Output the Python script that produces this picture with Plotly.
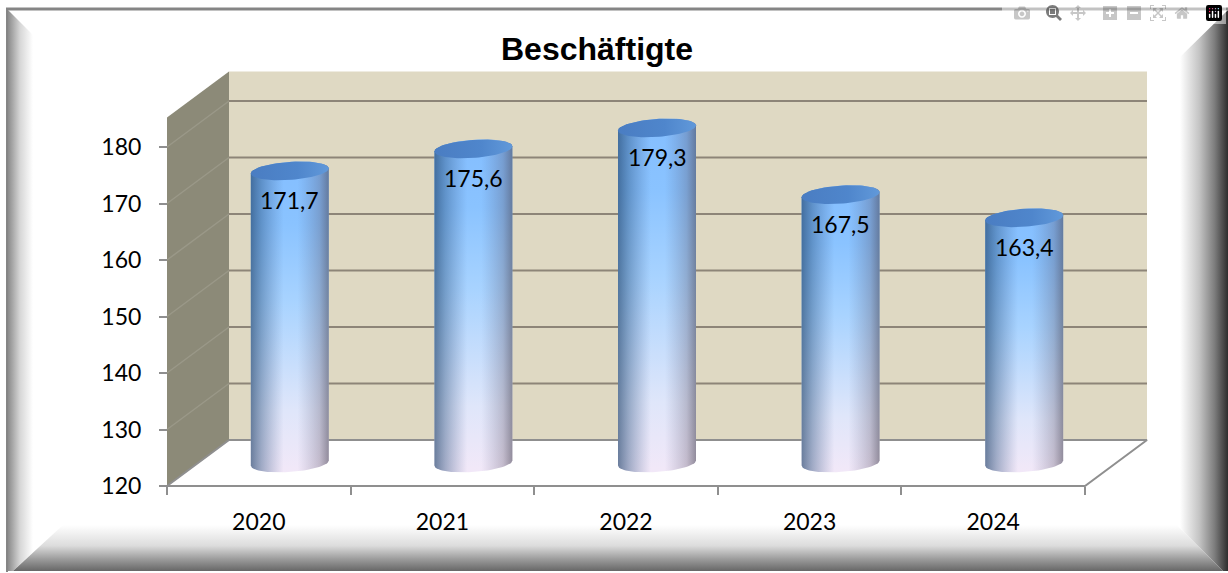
import numpy as np
import plotly.graph_objects as go

# ---- data ----
categories = ["2020", "2021", "2022", "2023", "2024"]
values = [171.7, 175.6, 179.3, 167.5, 163.4]
y_ticks = [120, 130, 140, 150, 160, 170, 180]
title_text = "Beschäftigte"

# ---- geometry of the pseudo-3D chart ----
W, H = 1228, 573
X0_PX, XU_PX = 167.0, 183.6      # pixel of x=0, pixels per category
Y0_PX, YU_PX = 486.0, 5.65       # pixel of y=120, pixels per unit
Y_BASE, Y_TOP = 120.0, 185.2
DX, DY = 62.0 / XU_PX, 46.0 / YU_PX   # depth offset in data units
N = len(categories)


def px_x(p):
    return (np.asarray(p, float) - X0_PX) / XU_PX


def px_y(p):
    return Y_BASE + (Y0_PX - np.asarray(p, float)) / YU_PX


x_range = [float(px_x(0)), float(px_x(W))]
y_range = [float(px_y(H)), float(px_y(0))]

fig = go.Figure()


def poly(xs, ys, color=None, grad=None):
    kw = dict(x=list(xs) + [xs[0]], y=list(ys) + [ys[0]], mode="lines", fill="toself",
              line=dict(width=0), hoverinfo="skip", showlegend=False)
    if grad is not None:
        kw["fillgradient"] = grad
        kw["fillcolor"] = "rgba(0,0,0,0)"
    else:
        kw["fillcolor"] = color
    fig.add_trace(go.Scatter(**kw))


def seg(xs, ys, color, width):
    fig.add_trace(go.Scatter(x=xs, y=ys, mode="lines", line=dict(color=color, width=width),
                             hoverinfo="skip", showlegend=False))


def pgrad(kind, a, b, stops):
    conv = px_x if kind == "horizontal" else px_y
    return dict(type=kind, start=float(conv(a)), stop=float(conv(b)), colorscale=stops)


# ---- bevelled frame ----
left_stops = [[0, "#858585"], [0.2, "#a5a5a5"], [0.5, "#d6d6d6"], [1, "#ffffff"]]
right_stops = [[0, "#ffffff"], [0.4, "#c4c4c4"], [0.72, "#7d7d7d"], [0.9, "#4a4a4a"], [1, "#2e2e2e"]]
bottom_stops = [[0, "#ffffff"], [0.45, "#dcdcdc"], [0.75, "#9a9a9a"], [1, "#676767"]]
poly(px_x([7, 33, 33, 13, 7]), px_y([9, 35, 552, 571, 571]), grad=pgrad("horizontal", 7, 33, left_stops))
poly(px_x([13, 63, 1177, 1223]), px_y([571, 525, 525, 571]), grad=pgrad("vertical", 525, 571, bottom_stops))
poly(px_x([1228, 1180, 1180, 1177, 1223, 1228]), px_y([10, 57, 480, 525, 571, 571]),
     grad=pgrad("horizontal", 1180, 1228, right_stops))
seg(px_x([6, 1228]).tolist(), px_y([9, 9]).tolist(), "#858585", 3)
seg(px_x([7, 7]).tolist(), px_y([8, 572]).tolist(), "#858585", 2)

# ---- walls ----
poly([0, DX, DX, 0], [Y_BASE, Y_BASE + DY, Y_TOP + DY, Y_TOP], color="#8c8a78")
poly([DX, N + DX, N + DX, DX], [Y_BASE + DY, Y_BASE + DY, Y_TOP + DY, Y_TOP + DY], color="#dfd9c3")
for v in y_ticks[1:]:
    seg([0, DX], [v, v + DY], "#9a9888", 1.5)
    seg([DX, N + DX], [v + DY, v + DY], "#8d8578", 2)

# ---- floor edges ----
seg([DX, N + DX, N, 0, DX], [Y_BASE + DY, Y_BASE + DY, Y_BASE, Y_BASE, Y_BASE + DY], "#8f8f8f", 2)

# ---- cylinders ----
A_PX, B_PX, TILT_PX = 39.0, 9.0, 2.6
t_low = np.linspace(np.pi, 0, 40)
t_up = np.linspace(0, -np.pi, 40)


def ell(t):
    return A_PX * np.cos(t) / XU_PX, (-B_PX * np.sin(t) + TILT_PX * np.cos(t)) / YU_PX


for i, v in enumerate(values):
    cx = i + 0.5 + DX / 2
    by = Y_BASE + DY / 2
    ty = v + DY / 2
    ex1, ey1 = ell(t_low)
    ex2, ey2 = ell(t_up)
    sx = np.concatenate([cx + ex1, cx + ex2])
    sy = np.concatenate([by + ey1, ty + ey2])
    body = dict(type="vertical", start=float(by - 9 / YU_PX), stop=float(ty + 9 / YU_PX),
                colorscale=[[0, "#f2e8f8"], [0.2, "#dfe6fa"], [0.55, "#a8d3ff"], [0.8, "#8ac3ff"], [1, "#84beff"]])
    poly(sx.tolist(), sy.tolist(), grad=body)
    shade = dict(type="horizontal", start=float(cx - A_PX / XU_PX), stop=float(cx + A_PX / XU_PX),
                 colorscale=[[0, "rgba(25,60,100,0.62)"], [0.14, "rgba(30,70,115,0.38)"],
                             [0.42, "rgba(60,90,140,0.0)"], [0.6, "rgba(80,90,130,0.0)"],
                             [0.88, "rgba(80,70,90,0.28)"], [1, "rgba(70,65,80,0.55)"]])
    poly(sx.tolist(), sy.tolist(), grad=shade)
    tt = np.linspace(0, 2 * np.pi, 80)
    cxs, cys = ell(tt)
    cap = dict(type="horizontal", start=float(cx - A_PX / XU_PX), stop=float(cx + A_PX / XU_PX),
               colorscale=[[0, "#4a7dc2"], [0.6, "#4f86cc"], [1, "#6199da"]])
    poly((cx + cxs).tolist(), (ty + cys).tolist(), grad=cap)
    fig.add_annotation(x=cx, y=ty, yshift=-29, text=f"{v:.1f}".replace(".", ","), showarrow=False,
                       font=dict(family="Lato", size=23, color="#000000"),
                       xanchor="center", yanchor="middle")

fig.update_layout(
    width=W, height=H, autosize=False,
    margin=dict(l=0, r=0, t=0, b=0),
    paper_bgcolor="#ffffff", plot_bgcolor="rgba(0,0,0,0)",
    showlegend=False,
    title=dict(text=f"<b>{title_text}</b>", x=597 / W, xref="paper", xanchor="center",
               y=1 - 49 / H, yref="paper", yanchor="middle",
               font=dict(family="Liberation Sans", size=32, color="#000000")),
    xaxis=dict(range=x_range, domain=[0, 1], anchor="free", position=1 - Y0_PX / H,
               showgrid=False, zeroline=False, showline=False,
               tickmode="array", tickvals=[i + 0.5 for i in range(N)], ticktext=categories,
               ticks="", ticklabelstandoff=20,
               tickfont=dict(family="Lato", size=23, color="#000000"),
               minor=dict(tickmode="array", tickvals=list(range(N + 1)), ticks="outside",
                          ticklen=8, tickwidth=2, tickcolor="#8f8f8f", showgrid=False)),
    yaxis=dict(range=y_range, domain=[0, 1], anchor="free", position=X0_PX / W,
               showgrid=False, zeroline=False, showline=False,
               tickmode="array", tickvals=y_ticks, ticks="outside", ticklen=8, tickwidth=2,
               tickcolor="#8f8f8f", ticklabelstandoff=13,
               tickfont=dict(family="Lato", size=23, color="#000000")),
)
fig.write_html("out.html", post_script="document.body.style.margin='0';document.body.style.overflow='hidden';")
